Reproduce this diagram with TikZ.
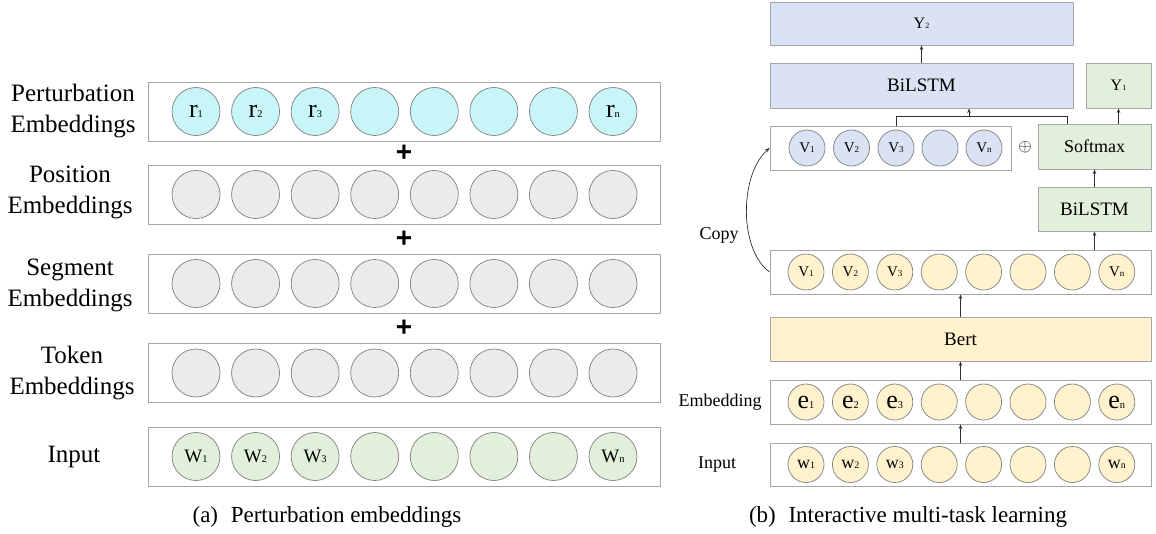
\documentclass[tikz,border=0pt]{standalone}
\usepackage{fontspec}
\setmainfont{Liberation Serif}
\newfontfamily\plusfont{Liberation Sans}
\usetikzlibrary{arrows.meta}
\definecolor{cyanf}{HTML}{C8F5F8}
\definecolor{grayf}{HTML}{EBEBEB}
\definecolor{greenf}{HTML}{E2EFDA}
\definecolor{yellowf}{HTML}{FFF2CC}
\definecolor{bluef}{HTML}{DAE3F3}
\definecolor{rowline}{HTML}{A6A6A6}
\definecolor{circline}{HTML}{7F7F7F}
\definecolor{arrline}{HTML}{303030}
\newcommand\fs[1]{\fontsize{#1}{#1}\selectfont}
\newcommand\tsub[2]{\scalebox{#1}{#2}}
\tikzset{
  rowbox/.style={draw=rowline, line width=0.9pt, fill=white, inner sep=0pt},
  lcirc/.style={circle, draw=circline, line width=0.7pt, minimum size=48, inner sep=0pt},
  rcirc/.style={circle, draw=circline, line width=0.7pt, minimum size=36, inner sep=0pt},
  blockbox/.style={draw=rowline, line width=0.9pt, inner sep=0pt},
  lbl/.style={align=center, font=\fs{25}},
  rlbl/.style={font=\fs{18}},
  plus/.style={font=\plusfont\bfseries\fs{28}},
  arr/.style={draw=arrline, line width=0.7pt, -{Stealth[length=4.5pt,width=3.5pt]}},
  ln/.style={draw=arrline, line width=0.7pt},
}
\begin{document}
\begin{tikzpicture}[x=1pt,y=-1pt]
\useasboundingbox (0,0) rectangle (1156,533);
% ---------------- left panel ----------------
\foreach \nm/\y/\fc in {pe/111.5/cyanf, po/194.5/grayf, se/283.5/grayf, to/373/grayf, in/456.5/greenf} {
  \node[rowbox, minimum width=512, minimum height=59] (\nm) at (404,\y) {};
  \foreach \i in {1,...,8}
    \node[lcirc, fill=\fc] (\nm-\i) at ({196+59.57*(\i-1)},\y) {};
}
\foreach \i/\t in {1/1,2/2,3/3,8/n}
  \node[font=\fs{26}] at (pe-\i) {r\tsub{0.4}{\t}};
\foreach \i/\t in {1/1,2/2,3/3,8/n}
  \node[font=\fs{19}] at (in-\i) {W\tsub{0.55}{\t}};
\node[lbl] (lpe) at (73,111.5) {Perturbation\\[6pt]Embeddings};
\node[lbl] (lpo) at (70,192.5) {Position\\[6pt]Embeddings};
\node[lbl] (lse) at (70,285) {Segment\\[6pt]Embeddings};
\node[lbl] (lto) at (72,373) {Token\\[6pt]Embeddings};
\node[lbl] (lin) at (74,456.5) {Input};
\node[plus] (p1) at (404,153) {+};
\node[plus] (p2) at (404,239) {+};
\node[plus] (p3) at (404,328) {+};
\node[font=\fs{23}] (capa) at (327,517) {(a)\hspace{0.55em}Perturbation embeddings};
% ---------------- right panel ----------------
\node[blockbox, fill=bluef, minimum width=303, minimum height=43] (y2) at (921.5,23.5) {\fs{16}Y\tsub{0.5}{2}};
\node[blockbox, fill=bluef, minimum width=303, minimum height=45] (bl) at (921.5,85.5) {\fs{19}BiLSTM};
\node[blockbox, fill=greenf, minimum width=65, minimum height=45] (y1) at (1118.5,85.5) {\fs{16}Y\tsub{0.5}{1}};
\node[blockbox, fill=greenf, minimum width=113, minimum height=45] (sm) at (1094.5,146.5) {\fs{18}Softmax};
\node[rowbox, minimum width=241, minimum height=44] (bv) at (890.5,148) {};
\foreach \i/\x in {1/807,2/851.5,3/896,4/940,5/984}
  \node[rcirc, fill=bluef] (bv-\i) at (\x,148) {};
\foreach \i/\t in {1/1,2/2,3/3,5/n}
  \node[font=\fs{15}] at (bv-\i) {V\tsub{0.6}{\t}};
\node[font=\fs{17}] (oplus) at (1025,147) {$\oplus$};
\node[blockbox, fill=greenf, minimum width=113, minimum height=44] (gl) at (1094.5,209) {\fs{19}BiLSTM};
\node[rowbox, minimum width=381, minimum height=44] (yv) at (960.5,272) {};
\node[rowbox, minimum width=381, minimum height=44] (em) at (960.5,402) {};
\node[rowbox, minimum width=381, minimum height=43] (ri) at (960.5,464.5) {};
\foreach \i in {1,...,8} {
  \node[rcirc, fill=yellowf] (yv-\i) at ({806+44.4*(\i-1)},272) {};
  \node[rcirc, fill=yellowf] (em-\i) at ({806+44.4*(\i-1)},402) {};
  \node[rcirc, fill=yellowf] (ri-\i) at ({806+44.4*(\i-1)},464.5) {};
}
\foreach \i/\t in {1/1,2/2,3/3,8/n} {
  \node[font=\fs{15}] at (yv-\i) {V\tsub{0.6}{\t}};
  \node[font=\fs{26}] at (em-\i) {e\tsub{0.4}{\t}};
  \node[font=\fs{18}] at (ri-\i) {w\tsub{0.55}{\t}};
}
\node[blockbox, fill=yellowf, minimum width=381, minimum height=44] (bert) at (960.5,339) {\fs{19}Bert};
\node[rlbl] (lcopy) at (719,235) {Copy};
\node[rlbl] (lemb) at (720,402) {Embedding};
\node[rlbl] (linp) at (717,464.5) {Input};
\node[font=\fs{23}] (capb) at (908,517) {(b)\hspace{0.55em}Interactive multi-task learning};
% connectors
\draw[arr] (ri.north) -- (em.south);
\draw[arr] (em.north) -- (bert.south);
\draw[arr] (bert.north) -- (yv.south);
\draw[arr] (yv.north -| gl.south) -- (gl.south);
\draw[arr] (gl.north) -- (sm.south);
\draw[arr] (sm.north -| y1.south) -- (y1.south);
\draw[arr] (bl.north) -- (y2.south);
\coordinate (bt) at (969,116);
\coordinate (br) at (1067,116);
\draw[ln] (bv.north -| bv-3) -- (bv-3 |- bt) -- (br) -- (br |- sm.north);
\draw[arr] (bt) -- (bt |- bl.south);
\draw[arr] (yv.west) .. controls (739,250) and (739,175) .. (bv.west);
\end{tikzpicture}
\end{document}
